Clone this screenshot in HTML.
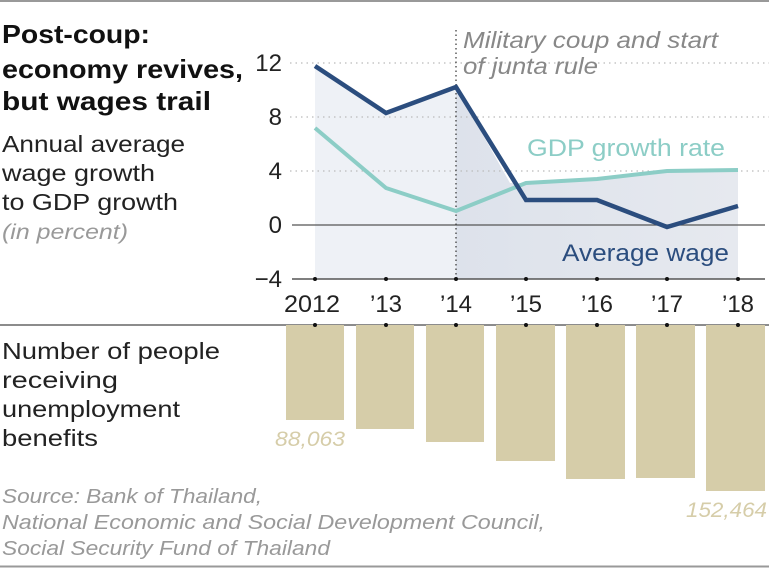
<!DOCTYPE html>
<html><head><meta charset="utf-8"><style>
body{margin:0;background:#fff;}
</style></head><body>
<svg width="769" height="568" viewBox="0 0 769 568" xmlns="http://www.w3.org/2000/svg" font-family="Liberation Sans, sans-serif">
<line x1="0" y1="1" x2="769" y2="1" stroke="#999" stroke-width="2"/>
<line x1="0" y1="566.5" x2="769" y2="566.5" stroke="#999" stroke-width="2"/>
<defs><linearGradient id="g" x1="0" x2="1"><stop offset="0" stop-color="#dde2eb"/><stop offset="1" stop-color="#e6e9ef"/></linearGradient></defs>
<polygon points="315,66 386,113 456,87 456,279 315,279" fill="#eef1f6"/>
<polygon points="456,87 510,183 526,183 597,179 667,171 738,170 738,279 456,279" fill="url(#g)"/>
<g stroke="#bbb" stroke-dasharray="1.5,4" stroke-width="1.2">
<line x1="290" y1="63" x2="769" y2="63"/><line x1="290" y1="117" x2="769" y2="117"/><line x1="290" y1="171" x2="769" y2="171"/>
</g>
<line x1="292" y1="225" x2="765" y2="225" stroke="#555" stroke-width="1.2"/>
<line x1="292" y1="279" x2="765" y2="279" stroke="#555" stroke-width="1.5"/>
<line x1="456" y1="30" x2="456" y2="279" stroke="#333" stroke-dasharray="1.5,3" stroke-width="1.2"/>
<polyline points="315,128 386,188 456,211 526,183 597,179 667,171 738,170" fill="none" stroke="#8ccdc6" stroke-width="4"/>
<polyline points="315,66 386,113 456,87 526,200 597,200 667,227 738,206" fill="none" stroke="#2b4d7e" stroke-width="4.5"/>
<g font-size="24" fill="#222" text-anchor="end">
<text x="282" y="71">12</text><text x="282" y="125">8</text><text x="282" y="179">4</text><text x="282" y="233">0</text><text x="282" y="287">−4</text>
</g>
<g font-size="24" fill="#222" text-anchor="middle">
<text x="312" y="312" textLength="56" lengthAdjust="spacingAndGlyphs">2012</text><text x="386" y="312">’13</text><text x="456" y="312">’14</text><text x="526" y="312">’15</text><text x="597" y="312">’16</text><text x="667" y="312">’17</text><text x="738" y="312">’18</text>
</g>
<text x="463" y="48" font-size="23" font-style="italic" fill="#888" textLength="255" lengthAdjust="spacingAndGlyphs">Military coup and start</text>
<text x="463" y="74" font-size="23" font-style="italic" fill="#888" textLength="135" lengthAdjust="spacingAndGlyphs">of junta rule</text>
<text x="527" y="156" font-size="24" fill="#8ccdc6" textLength="198" lengthAdjust="spacingAndGlyphs">GDP growth rate</text>
<text x="562" y="261" font-size="24" fill="#2b4d7e" textLength="167" lengthAdjust="spacingAndGlyphs">Average wage</text>
<g font-size="26" font-weight="bold" fill="#111" lengthAdjust="spacingAndGlyphs">
<text x="2" y="43" textLength="148" lengthAdjust="spacingAndGlyphs">Post-coup:</text><text x="2" y="78" textLength="241" lengthAdjust="spacingAndGlyphs">economy revives,</text><text x="2" y="110" textLength="209" lengthAdjust="spacingAndGlyphs">but wages trail</text>
</g>
<g font-size="23" fill="#222">
<text x="2" y="152" textLength="183" lengthAdjust="spacingAndGlyphs">Annual average</text><text x="2" y="181" textLength="153" lengthAdjust="spacingAndGlyphs">wage growth</text><text x="2" y="210" textLength="176" lengthAdjust="spacingAndGlyphs">to GDP growth</text>
</g>
<text x="2" y="239" font-size="21" font-style="italic" fill="#999" textLength="126" lengthAdjust="spacingAndGlyphs">(in percent)</text>
<line x1="0" y1="325" x2="769" y2="325" stroke="#666" stroke-width="1.5"/>
<g fill="#d6cda9">
<rect x="286" y="325" width="58" height="95"/><rect x="356" y="325" width="58" height="104"/><rect x="426" y="325" width="58" height="117"/><rect x="496" y="325" width="59" height="136"/><rect x="566" y="325" width="59" height="154"/><rect x="636" y="325" width="59" height="153"/><rect x="706" y="325" width="59" height="166"/>
</g>
<g fill="#111">
<circle cx="315" cy="279" r="2"/><circle cx="386" cy="279" r="2"/><circle cx="456" cy="279" r="2"/><circle cx="526" cy="279" r="2"/><circle cx="597" cy="279" r="2"/><circle cx="667" cy="279" r="2"/><circle cx="738" cy="279" r="2"/>
<circle cx="315" cy="325" r="2"/><circle cx="386" cy="325" r="2"/><circle cx="456" cy="325" r="2"/><circle cx="526" cy="325" r="2"/><circle cx="597" cy="325" r="2"/><circle cx="667" cy="325" r="2"/><circle cx="738" cy="325" r="2"/>
</g>
<g font-size="23" fill="#222">
<text x="2" y="359" textLength="218" lengthAdjust="spacingAndGlyphs">Number of people</text><text x="2" y="388" textLength="116" lengthAdjust="spacingAndGlyphs">receiving</text><text x="2" y="417" textLength="178" lengthAdjust="spacingAndGlyphs">unemployment</text><text x="2" y="446" textLength="96" lengthAdjust="spacingAndGlyphs">benefits</text>
</g>
<text x="275" y="446" font-size="21" font-style="italic" fill="#d6cda9" textLength="70" lengthAdjust="spacingAndGlyphs">88,063</text>
<text x="686" y="517" font-size="21" font-style="italic" fill="#d6cda9" textLength="81" lengthAdjust="spacingAndGlyphs">152,464</text>
<g font-size="20" font-style="italic" fill="#999">
<text x="2" y="503" textLength="260" lengthAdjust="spacingAndGlyphs">Source: Bank of Thailand,</text><text x="2" y="529" textLength="543" lengthAdjust="spacingAndGlyphs">National Economic and Social Development Council,</text><text x="2" y="555" textLength="328" lengthAdjust="spacingAndGlyphs">Social Security Fund of Thailand</text>
</g>
</svg>
</body></html>
